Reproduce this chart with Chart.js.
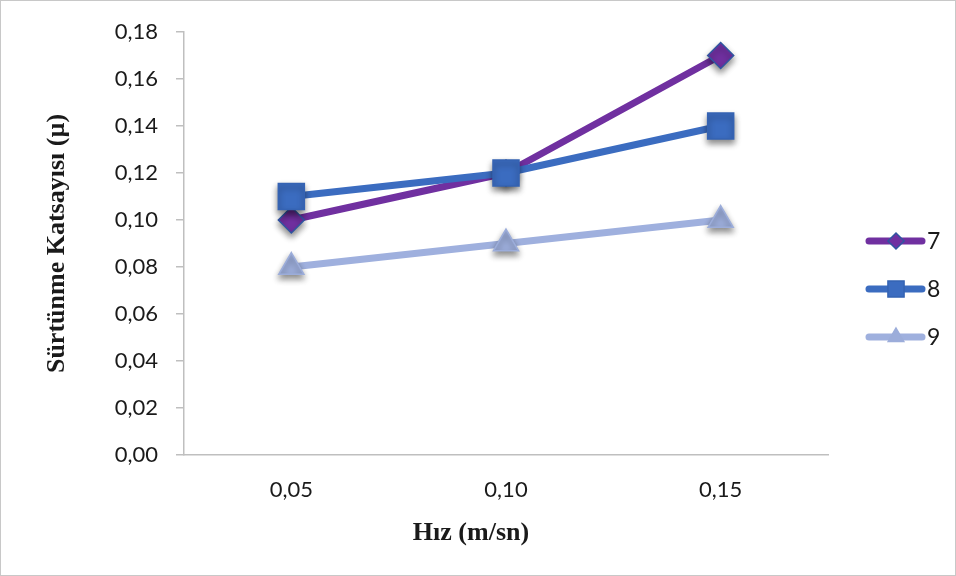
<!DOCTYPE html>
<html>
<head>
<meta charset="utf-8">
<script src="https://cdn.jsdelivr.net/npm/chart.js@4/dist/chart.umd.min.js"></script>
<style>
    html, body { margin: 0; padding: 0; background: #fff; }
    #wrap { width: 956px; height: 576px; position: relative; }
</style>
</head>
<body>
<div id="wrap"><canvas id="friction-chart"></canvas></div>
<script>
    'use strict';

    // Hız (m/sn) categories and friction coefficient per sample
    const categories = ['0,05', '0,10', '0,15'];
    const seriesNames = ['7', '8', '9'];
    const series7 = [0.10, 0.12, 0.17];
    const series8 = [0.11, 0.12, 0.14];
    const series9 = [0.08, 0.09, 0.10];
    const yMin = 0;
    const yMax = 0.18;
    const yStep = 0.02;
    const xTitle = 'Hız (m/sn)';
    const yTitle = 'Sürtünme Katsayısı (µ)';

    const tickFont = { family: 'Lato', size: 22 };
    const titleFont = { family: 'Liberation Serif', size: 26, weight: 'bold' };
    const axisColor = '#bfbfbf';

    // Drop shadow under the markers only (lines stay flat)
    const basePointDraw = Chart.PointElement.prototype.draw;
    Chart.PointElement.prototype.draw = function(ctx, area) {
        ctx.save();
        ctx.shadowColor = 'rgba(0, 0, 0, 0.45)';
        ctx.shadowBlur = 6;
        ctx.shadowOffsetY = 4;
        basePointDraw.call(this, ctx, area);
        ctx.restore();
    };

    // Outer frame + white background
    const frame = {
        id: 'frame',
        beforeDraw(chart) {
            const ctx = chart.ctx;
            ctx.save();
            ctx.fillStyle = '#fff';
            ctx.fillRect(0, 0, chart.width, chart.height);
            ctx.strokeStyle = '#c8c8c8';
            ctx.lineWidth = 1;
            ctx.strokeRect(0.5, 0.5, chart.width - 1, chart.height - 1);
            ctx.restore();
        }
    };

    // X axis title sits a bit left of the plot centre, so it's drawn by hand
    const xAxisTitle = {
        id: 'xAxisTitle',
        afterDraw(chart) {
            const ctx = chart.ctx;
            ctx.save();
            ctx.fillStyle = '#1a1a1a';
            ctx.font = 'bold ' + titleFont.size + 'px "' + titleFont.family + '"';
            ctx.textAlign = 'center';
            ctx.textBaseline = 'middle';
            ctx.fillText(xTitle, 471, 533);
            ctx.restore();
        }
    };

    // Legend on the right: thick line with the series marker in the middle
    const seriesLegend = {
        id: 'seriesLegend',
        afterDraw(chart) {
            const ctx = chart.ctx;
            chart.data.datasets.forEach((ds, i) => {
                const y = 241 + i * 48;
                ctx.save();
                ctx.strokeStyle = ds.borderColor;
                ctx.lineWidth = 7;
                ctx.lineCap = 'round';
                ctx.beginPath();
                ctx.moveTo(869, y);
                ctx.lineTo(922, y);
                ctx.stroke();
                ctx.fillStyle = ds.pointBackgroundColor;
                ctx.strokeStyle = ds.pointBorderColor;
                ctx.lineWidth = ds.pointBorderWidth;
                Chart.helpers.drawPoint(ctx, {
                    pointStyle: ds.pointStyle,
                    radius: ds.pointRadius * 0.62,
                    rotation: 0,
                    borderWidth: ds.pointBorderWidth
                }, 896, y);
                ctx.fillStyle = '#1a1a1a';
                ctx.font = '23px ' + tickFont.family;
                ctx.textBaseline = 'middle';
                ctx.textAlign = 'left';
                ctx.fillText(ds.label, 927, y + 1);
                ctx.restore();
            });
        }
    };

    function makeSeries(label, data, line, fill, border, style, radius, order) {
        return {
            label: label,
            data: data,
            borderColor: line,
            borderWidth: 7,
            borderJoinStyle: 'round',
            pointStyle: style,
            pointRadius: radius,
            pointHoverRadius: radius,
            pointBackgroundColor: fill,
            pointBorderColor: border,
            pointBorderWidth: 1.5,
            tension: 0,
            fill: false,
            order: order
        };
    }

    const ctx = document.getElementById('friction-chart').getContext('2d');

    new Chart(ctx, {
        type: 'line',
        data: {
            labels: categories,
            datasets: [
                makeSeries(seriesNames[0], series7, '#7030a0', '#7030a0', '#2f55a0', 'rectRot', 13, 3),
                makeSeries(seriesNames[1], series8, '#3b6cc0', '#3b6cc0', '#3563b3', 'rect', 18.4, 2),
                makeSeries(seriesNames[2], series9, '#9fb0de', '#9cadda', '#9cadda', 'triangle', 14.5, 1)
            ]
        },
        options: {
            responsive: true,
            maintainAspectRatio: false,
            animation: false,
            devicePixelRatio: 1,
            layout: {
                padding: { left: 0, right: 128, top: 32, bottom: 0 }
            },
            plugins: {
                legend: { display: false },
                tooltip: { enabled: false }
            },
            scales: {
                x: {
                    type: 'category',
                    offset: true,
                    grid: {
                        display: true,
                        drawOnChartArea: false,
                        drawTicks: false,
                        offset: true
                    },
                    border: { display: true, color: axisColor, width: 1.5 },
                    ticks: {
                        color: '#1a1a1a',
                        font: tickFont,
                        padding: 22,
                        maxRotation: 0
                    },
                    title: { display: false },
                    afterFit(scale) {
                        scale.height = 121;
                    }
                },
                y: {
                    min: yMin,
                    max: yMax,
                    grid: {
                        display: true,
                        drawOnChartArea: false,
                        drawTicks: true,
                        tickLength: 8,
                        color: axisColor,
                        lineWidth: 1.5
                    },
                    border: { display: true, color: axisColor, width: 1.5 },
                    ticks: {
                        stepSize: yStep,
                        color: '#1a1a1a',
                        font: tickFont,
                        padding: 18,
                        callback: v => v.toFixed(2).replace('.', ',')
                    },
                    title: {
                        display: true,
                        text: yTitle,
                        color: '#1a1a1a',
                        font: titleFont,
                        padding: { top: 42, bottom: 0 }
                    },
                    afterFit(scale) {
                        scale.width = 184;
                    }
                }
            }
        },
        plugins: [frame, xAxisTitle, seriesLegend]
    });
</script>
</body>
</html>
